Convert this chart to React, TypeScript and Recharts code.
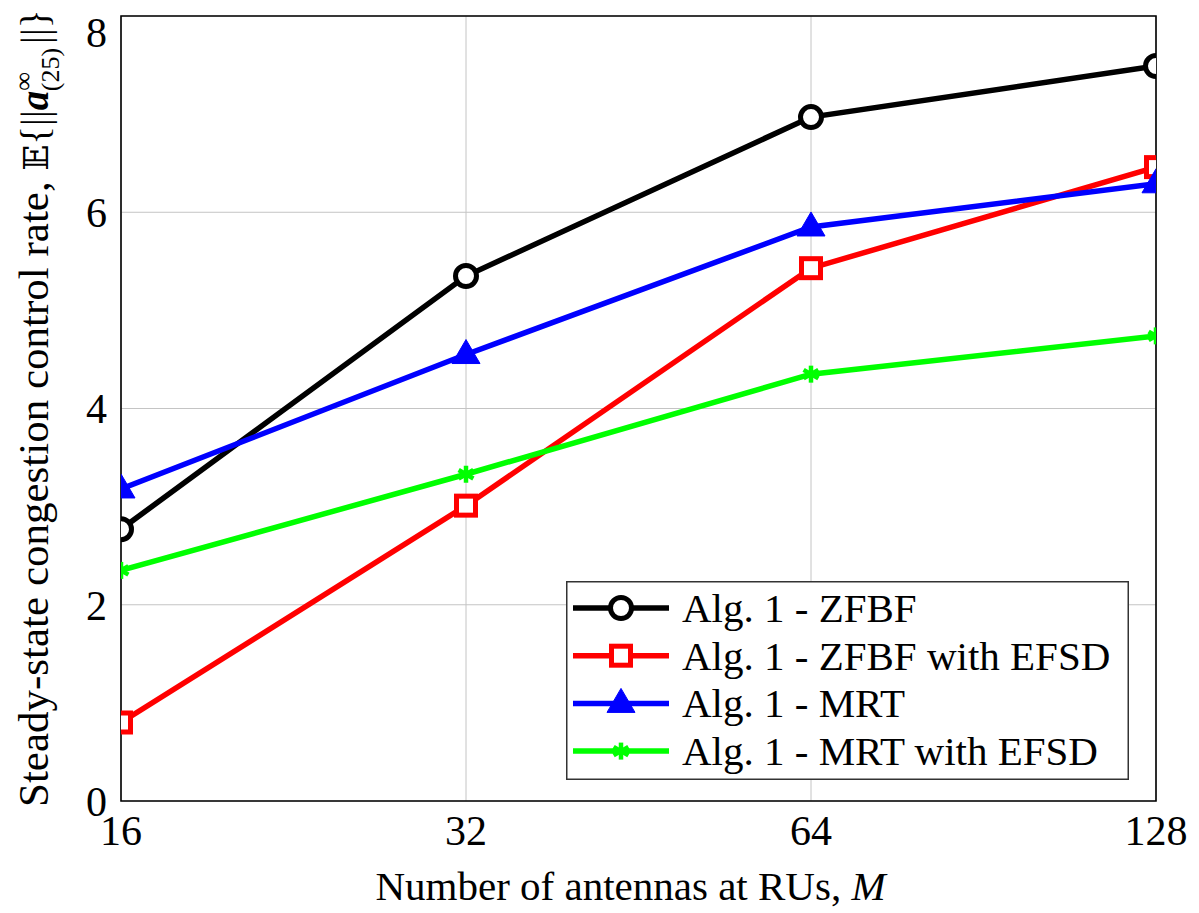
import React from "react";
import {
  LineChart,
  Line,
  XAxis,
  YAxis,
  CartesianGrid,
  ReferenceArea,
} from "recharts";

const antennas = [16, 32, 64, 128];
const yTicks = [0, 2, 4, 6, 8];
const zfbf = [2.77, 5.35, 6.97, 7.49];
const zfbfEfsd = [0.8, 3.01, 5.43, 6.46];
const mrt = [3.18, 4.55, 5.85, 6.29];
const mrtEfsd = [2.35, 3.33, 4.35, 4.74];

const seriesNames = [
  "Alg. 1 - ZFBF",
  "Alg. 1 - ZFBF with EFSD",
  "Alg. 1 - MRT",
  "Alg. 1 - MRT with EFSD",
];
const seriesKeys = ["zfbf", "zfbfEfsd", "mrt", "mrtEfsd"];
const seriesColors = ["#000000", "#ff0000", "#0000ff", "#00ff00"];

const data = antennas.map((m, i) => ({
  m,
  zfbf: zfbf[i],
  zfbfEfsd: zfbfEfsd[i],
  mrt: mrt[i],
  mrtEfsd: mrtEfsd[i],
}));

const FONT = "'Liberation Serif', 'Times New Roman', serif";

function Marker({ kind, cx, cy }: { kind: number; cx: number; cy: number }) {
  if (cx == null || cy == null) return null;
  if (kind === 0) {
    return <circle cx={cx} cy={cy} r={10.5} fill="#fff" stroke="#000" strokeWidth={5} />;
  }
  if (kind === 1) {
    return (
      <rect x={cx - 9.5} y={cy - 9.5} width={19} height={19} fill="#fff" stroke="#ff0000" strokeWidth={5} />
    );
  }
  if (kind === 2) {
    return (
      <polygon
        points={`${cx},${cy - 15} ${cx - 14},${cy + 9} ${cx + 14},${cy + 9}`}
        fill="#0000ff"
        stroke="#0000ff"
        strokeWidth={1}
      />
    );
  }
  const r = 8.5;
  const d = r * 0.87;
  return (
    <g stroke="#00ff00" strokeWidth={4.5} strokeLinecap="butt">
      <line x1={cx} y1={cy - r} x2={cx} y2={cy + r} />
      <line x1={cx - d} y1={cy - r / 2} x2={cx + d} y2={cy + r / 2} />
      <line x1={cx - d} y1={cy + r / 2} x2={cx + d} y2={cy - r / 2} />
    </g>
  );
}

function makeDot(kind: number) {
  return (props: any) => <Marker key={`${kind}-${props.index}`} kind={kind} cx={props.cx} cy={props.cy} />;
}

function YLabel(props: any) {
  const vb = props.viewBox || { x: 0, y: 8, width: 113, height: 785 };
  const x = 40;
  const y = vb.y + vb.height + 6;
  return (
    <text
      x={x}
      y={y}
      transform={`rotate(-90, ${x}, ${y})`}
      textAnchor="start"
      fontFamily={FONT}
      fontSize={43}
      fill="#000"
    >
      Steady-state congestion control rate,{" "}
      <tspan fontFamily="'DejaVu Serif', serif" fontSize={34}>𝔼</tspan>
      <tspan fontSize={39}>{"{||"}</tspan>
      <tspan fontSize={39} fontWeight="bold" fontStyle="italic">a</tspan>
      <tspan fontSize={26} dy={-16}>∞</tspan>
      <tspan fontSize={26} dx={-19} dy={27}>(25)</tspan>
      <tspan fontSize={39} dx={4} dy={-11}>{"||}"}</tspan>
    </text>
  );
}

function XLabel(props: any) {
  const vb = props.viewBox || { x: 113, y: 793, width: 1035, height: 112 };
  const x = vb.x + vb.width / 2 - 8;
  const y = vb.y + 99;
  return (
    <text x={x} y={y} textAnchor="middle" fontFamily={FONT} fontSize={41} fill="#000">
      Number of antennas at RUs, <tspan fontStyle="italic">M</tspan>
    </text>
  );
}

function LegendBox() {
  const rowH = 47.7;
  return (
    <svg width={563} height={199} style={{ display: "block" }}>
      <rect x={0.75} y={0.75} width={561.5} height={197.5} fill="#fff" stroke="#333" strokeWidth={1.5} />
      {seriesNames.map((name, i) => {
        const cy = 27 + i * rowH;
        return (
          <g key={name}>
            <line x1={7} y1={cy} x2={103} y2={cy} stroke={seriesColors[i]} strokeWidth={5.5} />
            <Marker kind={i} cx={55} cy={cy} />
            <text x={116} y={cy + 14} fontFamily={FONT} fontSize={41} fill="#000">
              {name}
            </text>
          </g>
        );
      })}
    </svg>
  );
}

export default function App() {
  return (
    <div style={{ position: "relative", width: 1183, height: 905, background: "#fff" }}>
      <LineChart
        width={1183}
        height={905}
        data={data}
        margin={{ top: 8, right: 35, left: 0, bottom: 0 }}
      >
        <CartesianGrid stroke="#c4c4c4" strokeWidth={1} />
        <XAxis
          dataKey="m"
          type="number"
          scale="log"
          domain={[16, 128]}
          ticks={antennas}
          allowDataOverflow
          height={112}
          tickLine={false}
          tickSize={0}
          axisLine={false}
          tickMargin={14}
          tick={{ fontFamily: FONT, fontSize: 42, fill: "#000" }}
          label={(p: any) => <XLabel {...p} />}
        />
        <YAxis
          type="number"
          domain={[0, 8]}
          ticks={yTicks}
          width={113}
          tickLine={false}
          tickSize={0}
          axisLine={false}
          tickMargin={14}
          tick={{ fontFamily: FONT, fontSize: 42, fill: "#000" }}
          label={(p: any) => <YLabel {...p} />}
        />
        <ReferenceArea x1={16} x2={128} y1={0} y2={8} fill="none" stroke="#000" strokeWidth={1.6} ifOverflow="visible" />
        {seriesKeys.map((k, i) => (
          <Line
            key={k}
            dataKey={k}
            name={seriesNames[i]}
            stroke={seriesColors[i]}
            strokeWidth={5.5}
            dot={makeDot(i)}
            activeDot={false}
            isAnimationActive={false}
          />
        ))}
      </LineChart>
      <div style={{ position: "absolute", left: 558, top: 573 }}>
        <LegendBox />
      </div>
    </div>
  );
}
